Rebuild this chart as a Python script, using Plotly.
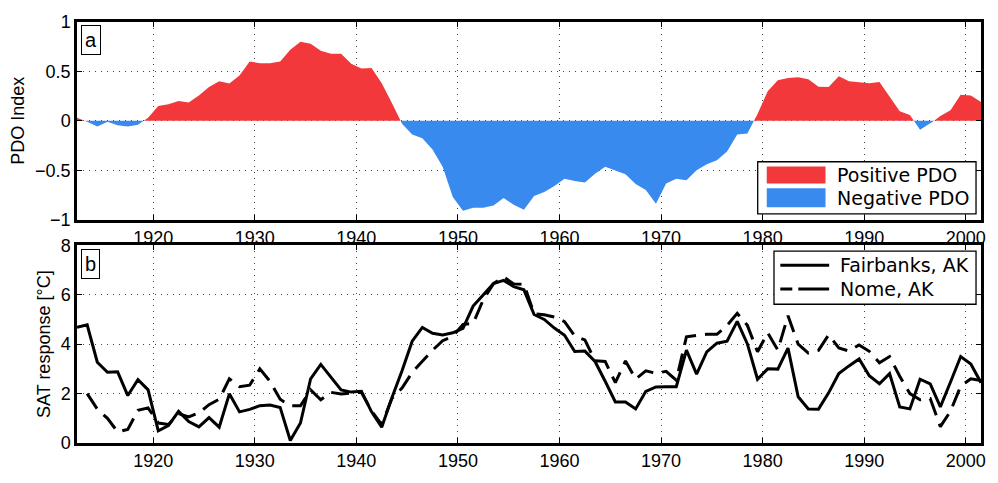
import numpy as np
import plotly.graph_objects as go
from plotly.subplots import make_subplots

# Annual values plotted at mid-year
years = [1912.5 + i for i in range(90)]

pdo_index = [
    0.03, -0.01, -0.058, -0.01, -0.045, -0.058, -0.04, 0.03, 0.15, 0.167,
    0.20, 0.186, 0.256, 0.343, 0.40, 0.378, 0.458, 0.60, 0.583, 0.583,
    0.60, 0.72, 0.80, 0.78, 0.71, 0.68, 0.68, 0.577, 0.53, 0.535,
    0.38, 0.18, -0.03, -0.138, -0.176, -0.29, -0.465, -0.77, -0.91, -0.88,
    -0.88, -0.856, -0.78, -0.85, -0.90, -0.76, -0.72, -0.66, -0.587, -0.61,
    -0.625, -0.535, -0.465, -0.50, -0.54, -0.64, -0.70, -0.84, -0.635, -0.587,
    -0.60, -0.50, -0.44, -0.40, -0.31, -0.138, -0.128, 0.07, 0.30, 0.41,
    0.433, 0.44, 0.42, 0.346, 0.343, 0.45, 0.40, 0.39, 0.38, 0.394,
    0.24, 0.096, 0.058, -0.09, -0.03, 0.048, 0.106, 0.263, 0.256, 0.19,
]

fairbanks_sat = [
    4.68, 4.78, 3.27, 2.86, 2.88, 1.92, 2.56, 2.15, 0.49, 0.70,
    1.28, 0.87, 0.65, 1.03, 0.64, 1.99, 1.26, 1.36, 1.51, 1.54,
    1.44, 0.10, 0.81, 2.60, 3.18, 2.67, 2.15, 2.06, 2.09, 1.26,
    0.64, 1.83, 2.92, 4.12, 4.68, 4.44, 4.37, 4.46, 4.64, 5.54,
    6.00, 6.45, 6.58, 6.33, 6.20, 5.20, 5.00, 4.65, 4.36, 3.70,
    3.72, 3.30, 2.50, 1.66, 1.66, 1.38, 2.09, 2.27, 2.28, 2.28,
    3.76, 2.79, 3.69, 4.04, 4.12, 4.92, 4.01, 2.58, 3.00, 2.99,
    3.84, 1.87, 1.38, 1.37, 2.03, 2.81, 3.12, 3.40, 2.72, 2.40,
    2.81, 1.46, 1.38, 2.58, 2.39, 1.46, 2.47, 3.50, 3.20, 2.44,
]

nome_sat = [
    None, 2.00, 1.37, 1.00, 0.45, 0.55, 1.32, 1.42, 0.81, 0.75,
    1.19, 1.06, 1.22, 1.55, 1.77, 2.60, 2.28, 2.34, 3.00, 2.50,
    1.77, 1.51, 1.51, 2.15, 1.75, 2.05, 1.98, 2.02, 2.05, 1.30,
    0.74, 1.80, 2.22, 2.86, 3.31, 3.75, 4.14, 4.32, 4.80, 4.84,
    5.80, 6.45, 6.72, 6.44, 6.42, 5.23, 5.19, 5.10, 4.91, 4.33,
    4.17, 3.33, 3.30, 2.44, 3.32, 2.59, 2.92, 2.82, 2.90, 2.54,
    4.30, 4.36, 4.40, 4.40, 4.76, 5.25, 4.76, 3.69, 4.46, 3.76,
    5.15, 4.00, 3.64, 3.75, 4.38, 3.85, 3.72, 3.97, 3.71, 3.25,
    3.50, 2.70, 2.00, 1.75, 1.80, 0.66, 1.29, 2.30, 2.60, 2.53,
]

RED = "#F2383B"
BLUE = "#388AEE"
DASH = "18px,9px"
TICK_FONT = dict(family="Liberation Sans, Arial, sans-serif", size=18, color="black")
LEGEND_FONT = dict(family="DejaVu Sans, sans-serif", size=19, color="black")


def split_at_zero(x, y):
    """Insert the zero crossings so positive and negative fills meet cleanly."""
    xs, ys = [x[0]], [y[0]]
    for i in range(1, len(x)):
        y0, y1 = y[i - 1], y[i]
        if y0 * y1 < 0:
            xs.append(x[i - 1] + (x[i] - x[i - 1]) * y0 / (y0 - y1))
            ys.append(0.0)
        xs.append(x[i])
        ys.append(y1)
    ys = np.array(ys)
    return xs, np.maximum(ys, 0.0), np.minimum(ys, 0.0)


fig = make_subplots(rows=2, cols=1, vertical_spacing=27 / 443)

px_, pos, neg = split_at_zero(years, pdo_index)
fig.add_trace(go.Scatter(x=px_, y=pos, mode="lines", fill="tozeroy",
                         fillcolor=RED, line=dict(width=0, color=RED),
                         name="Positive PDO", showlegend=False), row=1, col=1)
fig.add_trace(go.Scatter(x=px_, y=neg, mode="lines", fill="tozeroy",
                         fillcolor=BLUE, line=dict(width=0, color=BLUE),
                         name="Negative PDO", showlegend=False), row=1, col=1)

fig.add_trace(go.Scatter(x=years, y=fairbanks_sat, mode="lines",
                         line=dict(color="black", width=3),
                         name="Fairbanks, AK", showlegend=False), row=2, col=1)
fig.add_trace(go.Scatter(x=years, y=nome_sat, mode="lines",
                         line=dict(color="black", width=3, dash=DASH),
                         name="Nome, AK", showlegend=False), row=2, col=1)

axis_common = dict(
    showline=True, linewidth=2.5, linecolor="black", mirror="ticks",
    ticks="inside", ticklen=5, tickwidth=1, tickcolor="black",
    showgrid=True, gridcolor="#444", gridwidth=1, griddash="1px,5px",
    zeroline=False, tickfont=TICK_FONT,
)

for r in (1, 2):
    fig.update_xaxes(range=[1912.5, 2001.5], tickvals=list(range(1920, 2001, 10)),
                     row=r, col=1, **axis_common)

fig.update_yaxes(range=[-1, 1], dtick=0.5, row=1, col=1,
                 title=dict(text="PDO Index", font=TICK_FONT, standoff=6), **axis_common)
fig.update_yaxes(range=[0, 8], dtick=2, row=2, col=1,
                 title=dict(text="SAT response [°C]", font=TICK_FONT, standoff=6), **axis_common)

# Panel letters
for xr, yr, letter in (("x domain", "y domain", "a"), ("x2 domain", "y2 domain", "b")):
    fig.add_annotation(xref=xr, yref=yr, x=0.004, y=0.983, xanchor="left", yanchor="top",
                       text=letter, showarrow=False,
                       font=dict(family="Liberation Sans, Arial", size=20, color="black"),
                       bordercolor="black", borderwidth=1, borderpad=3, bgcolor="white")

# Legend, panel a
fig.add_shape(type="rect", xref="x domain", yref="y domain", x0=0.753, x1=0.9945, y0=0.029, y1=0.293,
              line=dict(color="black", width=1.3), fillcolor="white", layer="above")
fig.add_shape(type="rect", xref="x domain", yref="y domain", x0=0.763, x1=0.828, y0=0.183, y1=0.269,
              line=dict(width=0), fillcolor=RED, layer="above")
fig.add_shape(type="rect", xref="x domain", yref="y domain", x0=0.763, x1=0.828, y0=0.0625, y1=0.159,
              line=dict(width=0), fillcolor=BLUE, layer="above")
for yy, label in ((0.226, "Positive PDO"), (0.111, "Negative PDO")):
    fig.add_annotation(xref="x domain", yref="y domain", x=0.838, y=yy, xanchor="left", yanchor="middle",
                       text=label, showarrow=False, font=LEGEND_FONT)

# Legend, panel b
fig.add_shape(type="rect", xref="x2 domain", yref="y2 domain", x0=0.771, x1=0.9945, y0=0.702, y1=0.971,
              line=dict(color="black", width=1.3), fillcolor="white", layer="above")
fig.add_shape(type="line", xref="x2 domain", yref="y2 domain", x0=0.778, x1=0.832, y0=0.899, y1=0.899,
              line=dict(color="black", width=3), layer="above")
fig.add_shape(type="line", xref="x2 domain", yref="y2 domain", x0=0.778, x1=0.832, y0=0.779, y1=0.779,
              line=dict(color="black", width=3, dash="12px,6px,30px,0px"), layer="above")
for yy, label in ((0.899, "Fairbanks, AK"), (0.779, "Nome, AK")):
    fig.add_annotation(xref="x2 domain", yref="y2 domain", x=0.842, y=yy, xanchor="left", yanchor="middle",
                       text=label, showarrow=False, font=LEGEND_FONT)

fig.update_layout(
    width=998, height=483,
    margin=dict(l=77, r=14, t=18, b=22),
    paper_bgcolor="white", plot_bgcolor="white",
    showlegend=False,
)

fig.write_html("out.html")
